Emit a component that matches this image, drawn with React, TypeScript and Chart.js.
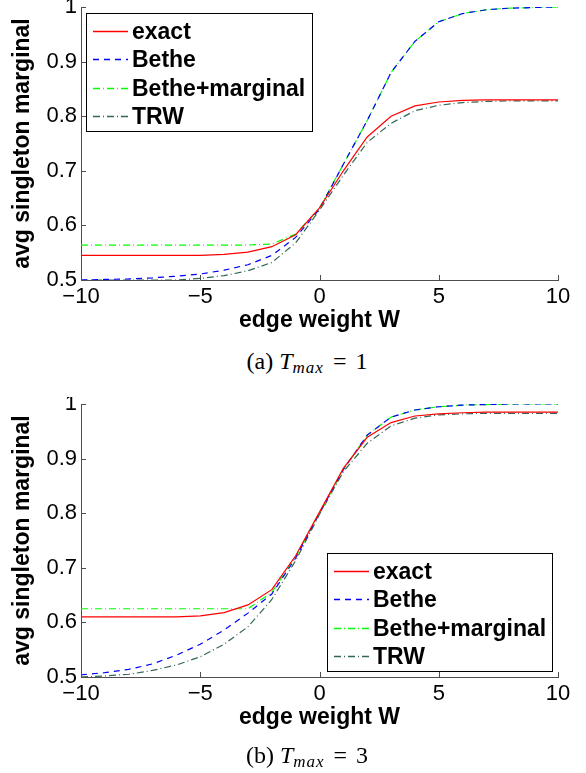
import React, { useEffect, useRef } from "react";
import { Chart, registerables } from "chart.js";
Chart.register(...registerables);

// ---------- data ----------
const W = [-10, -9, -8, -7, -6, -5, -4, -3, -2, -1, 0, 1, 2, 3, 4, 5, 6, 7, 8, 9, 10];

// (a) T_max = 1
const exactA = [0.545, 0.545, 0.545, 0.545, 0.545, 0.545, 0.547, 0.551, 0.561, 0.583, 0.632, 0.700, 0.762, 0.800, 0.819, 0.826, 0.829, 0.830, 0.830, 0.830, 0.830];
const betheA = [0.500, 0.501, 0.502, 0.504, 0.507, 0.511, 0.518, 0.528, 0.545, 0.578, 0.630, 0.712, 0.792, 0.880, 0.937, 0.973, 0.988, 0.995, 0.998, 0.999, 1.000];
const betheMargA = [0.564, 0.564, 0.564, 0.564, 0.564, 0.564, 0.564, 0.564, 0.566, 0.584, 0.632, 0.712, 0.792, 0.880, 0.937, 0.973, 0.988, 0.995, 0.998, 0.999, 1.000];
const trwA = [0.500, 0.500, 0.500, 0.500, 0.500, 0.503, 0.508, 0.517, 0.532, 0.568, 0.628, 0.692, 0.752, 0.787, 0.810, 0.820, 0.825, 0.827, 0.828, 0.828, 0.828];

// (b) T_max = 3
const exactB = [0.610, 0.610, 0.610, 0.610, 0.610, 0.612, 0.618, 0.632, 0.660, 0.722, 0.802, 0.882, 0.939, 0.966, 0.978, 0.982, 0.984, 0.985, 0.985, 0.985, 0.985];
const betheB = [0.504, 0.508, 0.514, 0.524, 0.540, 0.560, 0.586, 0.617, 0.652, 0.718, 0.800, 0.880, 0.943, 0.976, 0.989, 0.995, 0.998, 0.999, 1.000, 1.000, 1.000];
const betheMargB = [0.625, 0.625, 0.625, 0.625, 0.625, 0.625, 0.625, 0.625, 0.655, 0.720, 0.800, 0.880, 0.943, 0.976, 0.989, 0.995, 0.998, 0.999, 1.000, 1.000, 1.000];
const trwB = [0.500, 0.502, 0.505, 0.512, 0.522, 0.537, 0.560, 0.592, 0.642, 0.713, 0.798, 0.876, 0.928, 0.960, 0.974, 0.980, 0.982, 0.983, 0.983, 0.983, 0.983];

const seriesLabels = ["exact", "Bethe", "Bethe+marginal", "TRW"];
const xTicks = [-10, -5, 0, 5, 10];
const yTicks = [0.5, 0.6, 0.7, 0.8, 0.9, 1];
const xTitle = "edge weight W";
const yTitle = "avg singleton marginal";
const captionA = { tag: "(a)", value: "1" };
const captionB = { tag: "(b)", value: "3" };

// ---------- styles ----------
const CW = 586;
const CH = 345;
const AXIS = "#4d4d4d";
const SANS = "'Liberation Sans', Arial, Helvetica, sans-serif";
const colors = ["#ff0000", "#0000ff", "#00ff00", "#336655"];
const dashes: number[][] = [[], [6, 5], [7, 3, 1, 3], [7, 3, 1, 3]];

type LegendBox = { left: number; top: number; width: number; height: number };

const inwardTicks = {
  id: "inwardTicks",
  afterDatasetsDraw(chart: any) {
    const { ctx, chartArea, scales } = chart;
    const x = scales.x;
    const y = scales.y;
    ctx.save();
    ctx.strokeStyle = AXIS;
    ctx.lineWidth = 1;
    ctx.setLineDash([]);
    for (const v of xTicks) {
      const px = Math.round(x.getPixelForValue(v)) + 0.5;
      ctx.beginPath();
      ctx.moveTo(px, chartArea.bottom);
      ctx.lineTo(px, chartArea.bottom - 5);
      ctx.stroke();
    }
    for (const v of yTicks) {
      const py = Math.round(y.getPixelForValue(v)) + 0.5;
      ctx.beginPath();
      ctx.moveTo(chartArea.left, py);
      ctx.lineTo(chartArea.left + 5, py);
      ctx.stroke();
    }
    ctx.restore();
  },
};

const boxLegend = {
  id: "boxLegend",
  afterDraw(chart: any, _args: any, opts: any) {
    const box: LegendBox = opts.box;
    if (!box) return;
    const { ctx } = chart;
    ctx.save();
    ctx.fillStyle = "#ffffff";
    ctx.fillRect(box.left, box.top, box.width, box.height);
    ctx.strokeStyle = "#000000";
    ctx.lineWidth = 1;
    ctx.setLineDash([]);
    ctx.strokeRect(box.left + 0.5, box.top + 0.5, box.width, box.height);
    ctx.font = `bold 23px ${SANS}`;
    ctx.textBaseline = "middle";
    ctx.textAlign = "left";
    chart.data.datasets.forEach((ds: any, i: number) => {
      const ry = Math.round(box.top + 18 + i * 28.3) + 0.5;
      ctx.save();
      ctx.strokeStyle = colors[i];
      ctx.lineWidth = 1.5;
      ctx.setLineDash(dashes[i]);
      ctx.beginPath();
      ctx.moveTo(box.left + 7, ry);
      ctx.lineTo(box.left + 42, ry);
      ctx.stroke();
      ctx.restore();
      ctx.fillStyle = "#000000";
      ctx.fillText(ds.label, box.left + 46, ry + 1);
    });
    ctx.restore();
  },
};

function fmt(v: number) {
  return String(v).replace("-", "\u2212");
}

function Plot({ series, legend }: { series: number[][]; legend: LegendBox }) {
  const ref = useRef<HTMLCanvasElement | null>(null);
  useEffect(() => {
    if (!ref.current) return;
    const chart = new Chart(ref.current, {
      type: "line",
      data: {
        datasets: series.map((vals, i) => ({
          label: seriesLabels[i],
          data: W.map((w, k) => ({ x: w, y: vals[k] })),
          borderColor: colors[i],
          backgroundColor: colors[i],
          borderDash: dashes[i],
          borderWidth: 1.2,
          pointRadius: 0,
          tension: 0,
          fill: false,
        })),
      },
      options: {
        responsive: false,
        animation: false,
        devicePixelRatio: 1,
        layout: { padding: { top: 7, left: 0, right: 28, bottom: 0 } },
        plugins: {
          legend: { display: false },
          tooltip: { enabled: false },
          boxLegend: { box: legend },
        } as any,
        scales: {
          x: {
            type: "linear",
            min: -10,
            max: 10,
            grid: { display: false, drawTicks: false },
            border: { display: true, color: AXIS, width: 1 },
            ticks: {
              padding: 4,
              color: "#000",
              font: { family: SANS, size: 22 },
              maxRotation: 0,
              autoSkip: false,
              callback: (v: any) => fmt(Number(v)),
            },
            title: {
              display: true,
              text: xTitle,
              color: "#000",
              font: { family: SANS, size: 23, weight: "bold" },
              padding: { top: 0, bottom: 11 },
            },
            afterBuildTicks: (s: any) => {
              s.ticks = xTicks.map((v) => ({ value: v }));
            },
            afterFit: (s: any) => {
              s.height = CH - 280;
            },
          },
          y: {
            type: "linear",
            min: 0.5,
            max: 1,
            grid: { display: false, drawTicks: false },
            border: { display: true, color: AXIS, width: 1 },
            ticks: {
              padding: 4,
              color: "#000",
              font: { family: SANS, size: 22 },
              callback: (v: any) => String(Math.round(Number(v) * 10) / 10),
            },
            title: {
              display: true,
              text: yTitle,
              color: "#000",
              font: { family: SANS, size: 23, weight: "bold" },
              padding: { top: 9, bottom: 0 },
            },
            afterBuildTicks: (s: any) => {
              s.ticks = yTicks.map((v) => ({ value: v }));
            },
            afterFit: (s: any) => {
              s.width = 81;
              s.paddingTop = 0;
              s.paddingBottom = 0;
            },
          },
        },
      } as any,
      plugins: [inwardTicks, boxLegend],
    });
    return () => chart.destroy();
  }, []);
  return <canvas ref={ref} width={CW} height={CH} style={{ display: "block", width: CW, height: CH }} />;
}

function Caption({ tag, value, top }: { tag: string; value: string; top: number }) {
  return (
    <div
      style={{
        position: "absolute",
        left: 157,
        width: 300,
        top,
        textAlign: "center",
        fontFamily: "'Liberation Serif', 'Times New Roman', serif",
        fontSize: 24,
        lineHeight: "28px",
        color: "#000",
        whiteSpace: "nowrap",
      }}
    >
      {tag} <i>T</i>
      <sub style={{ fontSize: 17, fontStyle: "italic", verticalAlign: "-4px", letterSpacing: "1px" }}>max</sub>
      <span style={{ margin: "0 9px" }}>=</span>
      {value}
    </div>
  );
}

export default function App() {
  return (
    <div style={{ position: "absolute", left: 0, top: 0, width: CW, height: 773, background: "#fff" }}>
      <div style={{ position: "absolute", left: 0, top: 0 }}>
        <Plot series={[exactA, betheA, betheMargA, trwA]} legend={{ left: 86, top: 13, width: 226, height: 118 }} />
      </div>
      <Caption tag={captionA.tag} value={captionA.value} top={347} />
      <div style={{ position: "absolute", left: 0, top: 397 }}>
        <Plot series={[exactB, betheB, betheMargB, trwB]} legend={{ left: 327, top: 156, width: 225, height: 118 }} />
      </div>
      <Caption tag={captionB.tag} value={captionB.value} top={741} />
    </div>
  );
}
